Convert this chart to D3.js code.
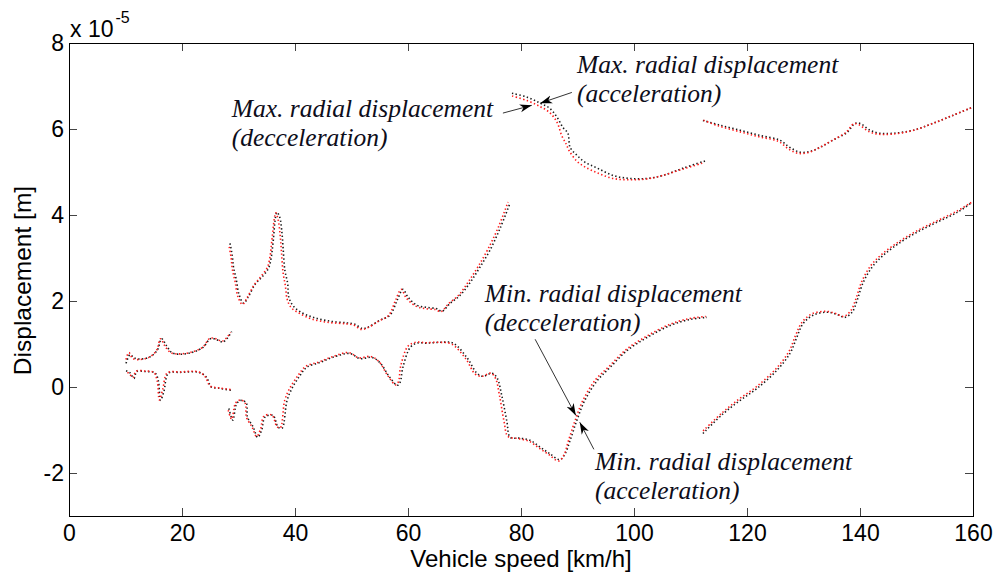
<!DOCTYPE html>
<html><head><meta charset="utf-8">
<script src="https://cdn.jsdelivr.net/npm/d3@7"></script>
<style>
html,body{margin:0;padding:0;background:#fff;}
svg{display:block;background:#fff;}
</style></head><body>
<svg id="chart" width="998" height="573"></svg>
<script>
// ---------- axis settings ----------
const xDomain = [0, 160];
const yDomain = [-3, 8];               // in units of 1e-5 m
const xTicks = [0, 20, 40, 60, 80, 100, 120, 140, 160];
const yTicks = [-2, 0, 2, 4, 6, 8];
const xLabel = "Vehicle speed [km/h]";
const yLabel = "Displacement [m]";
const exponentBase = "x 10";
const exponentPower = "-5";

// ---------- data: [speed km/h, displacement x1e-5 m] ----------
// black series (deceleration)
const blackLowUpper = [[10.1,0.55],[10.8,0.75],[11.5,0.68],[12.6,0.65],[14.3,0.7],[15.6,0.85],[16.4,1.12],[17.3,0.95],[18.2,0.8],[19.6,0.76],[21.9,0.81],[23.7,0.92],[25.0,1.12],[25.8,1.12],[27.3,1.05],[28.8,1.29]];
const blackLowLower = [[10.1,0.38],[10.8,0.33],[11.5,0.2],[12.0,0.36],[13.5,0.36],[15.2,0.33],[15.8,0.15],[16.2,-0.31],[16.8,-0.1],[17.6,0.32],[19.6,0.34],[23.0,0.34],[24.3,0.23],[25.2,0.0],[26.6,-0.03],[28.8,-0.08]];
const blackMidUpper = [[28.5,3.34],[28.9,3.05],[29.1,2.8],[29.6,2.5],[30.1,2.15],[30.9,1.95],[31.7,2.09],[33.0,2.4],[34.1,2.55],[35.3,2.76],[35.8,3.02],[36.1,3.34],[36.8,4.06],[37.3,3.95],[37.7,3.57],[37.9,3.22],[38.2,2.72],[38.7,2.41],[38.9,2.09],[39.6,1.9],[40.9,1.75],[43.2,1.62],[46.2,1.53],[49.2,1.49],[50.6,1.46],[51.9,1.36],[52.9,1.39],[55.0,1.55],[56.8,1.67],[58.1,2.02],[59.1,2.27],[60.0,2.09],[61.6,1.9],[63.4,1.85],[65.1,1.82],[66.0,1.76],[67.4,1.94],[69.2,2.13],[71.0,2.43],[72.7,2.78],[74.5,3.18],[76.3,3.69],[78.1,4.29]];
const blackMidLower = [[28.3,-0.5],[29.0,-0.77],[29.7,-0.38],[30.6,-0.31],[31.4,-0.38],[31.6,-0.7],[32.6,-0.93],[33.4,-1.17],[34.1,-1.0],[34.7,-0.7],[36.1,-0.66],[37.0,-0.93],[37.7,-0.96],[38.6,-0.31],[39.6,0.0],[40.9,0.27],[42.1,0.46],[44.4,0.57],[46.7,0.69],[49.7,0.78],[51.5,0.66],[53.6,0.69],[55.0,0.57],[56.8,0.22],[58.1,0.04],[58.6,0.11],[59.1,0.46],[60.4,0.92],[61.6,1.02],[63.4,1.02],[65.7,1.04],[68.0,1.02],[70.5,0.67],[72.2,0.32],[73.3,0.25],[74.9,0.32],[75.8,0.2],[76.6,-0.2],[77.5,-0.8],[78.1,-1.17],[79.8,-1.19],[81.6,-1.24],[83.4,-1.4],[85.1,-1.55],[86.9,-1.69],[87.8,-1.55],[88.7,-1.24],[89.9,-0.77],[91.3,-0.31],[93.5,0.15],[95.8,0.46],[98.8,0.85],[102.3,1.15],[106.4,1.43],[109.9,1.57],[112.9,1.62]];
const blackHighUpper = [[78.4,6.83],[81.1,6.74],[83.4,6.6],[85.1,6.48],[86.4,6.27],[87.4,6.04],[88.3,5.9],[88.7,5.57],[89.9,5.39],[91.3,5.23],[93.5,5.09],[96.3,4.92],[99.3,4.85],[102.3,4.85],[105.1,4.92],[108.7,5.09],[112.9,5.27]];
const blackTopUpper = [[112.2,6.2],[115.2,6.09],[118.8,5.97],[122.3,5.85],[125.8,5.74],[127.6,5.57],[129.4,5.46],[131.2,5.48],[132.9,5.57],[135.2,5.74],[137.7,5.92],[139.1,6.13],[140.0,6.13],[141.8,5.97],[143.5,5.9],[145.8,5.9],[149.4,5.97],[152.9,6.13],[156.5,6.32],[159.8,6.5]];
const blackTopLower = [[112.2,-1.08],[115.8,-0.62],[118.8,-0.31],[121.8,-0.03],[125.3,0.39],[127.6,0.78],[128.8,1.15],[129.9,1.47],[131.7,1.67],[134.2,1.74],[135.9,1.69],[137.3,1.62],[138.6,1.74],[139.5,2.02],[140.5,2.41],[142.1,2.78],[144.1,3.06],[147.1,3.36],[150.1,3.6],[153.6,3.83],[157.2,4.06],[159.8,4.29]];

// red series (acceleration)
const redLowUpper = [[10.0,0.6],[10.6,0.8],[11.3,0.66],[12.6,0.64],[14.3,0.7],[15.5,0.85],[16.2,1.12],[17.0,0.95],[18.0,0.8],[19.6,0.77],[21.9,0.82],[23.7,0.93],[24.8,1.12],[25.6,1.14],[27.2,1.07],[28.6,1.27]];
const redLowLower = [[10.0,0.35],[10.6,0.32],[11.3,0.22],[11.9,0.37],[13.5,0.37],[15.0,0.34],[15.6,0.15],[16.0,-0.3],[16.6,-0.05],[17.4,0.33],[19.6,0.35],[23.0,0.35],[24.1,0.24],[25.0,0.02],[26.6,-0.02],[28.6,-0.06]];
const redMidUpper = [[28.3,3.3],[28.7,3.0],[28.9,2.75],[29.4,2.45],[29.9,2.1],[30.7,1.92],[31.5,2.07],[32.8,2.38],[33.9,2.56],[35.1,2.78],[35.6,3.05],[35.9,3.4],[36.6,4.05],[37.0,3.9],[37.4,3.5],[37.6,3.15],[37.9,2.65],[38.3,2.35],[38.6,2.05],[39.3,1.85],[40.7,1.72],[43.0,1.58],[46.0,1.5],[49.0,1.47],[50.4,1.44],[51.7,1.34],[52.7,1.37],[54.8,1.53],[56.6,1.67],[57.8,2.02],[58.8,2.27],[59.7,2.07],[61.4,1.88],[63.2,1.82],[64.9,1.8],[65.8,1.75],[67.2,1.94],[69.0,2.14],[70.7,2.45],[72.4,2.8],[74.2,3.22],[76.0,3.72],[77.7,4.3]];
const redMidLower = [[28.1,-0.5],[28.8,-0.75],[29.5,-0.37],[30.4,-0.3],[31.2,-0.38],[31.4,-0.7],[32.4,-0.93],[33.2,-1.15],[33.9,-0.98],[34.5,-0.68],[35.9,-0.65],[36.8,-0.92],[37.4,-0.95],[38.2,-0.3],[39.2,0.0],[40.6,0.28],[41.9,0.48],[44.2,0.58],[46.5,0.7],[49.5,0.8],[51.3,0.68],[53.4,0.71],[54.8,0.6],[56.5,0.25],[57.8,0.05],[58.3,0.12],[58.7,0.48],[60.0,0.95],[61.4,1.04],[63.2,1.03],[65.5,1.04],[67.7,1.0],[70.2,0.66],[71.9,0.3],[73.1,0.25],[74.7,0.32],[75.5,0.2],[76.2,-0.2],[77.0,-0.8],[77.7,-1.15],[79.6,-1.2],[81.4,-1.26],[83.2,-1.42],[84.9,-1.57],[86.7,-1.72],[87.6,-1.58],[88.4,-1.25],[89.6,-0.77],[91.0,-0.3],[93.2,0.17],[95.6,0.48],[98.6,0.87],[102.1,1.17],[106.2,1.45],[109.7,1.59],[112.7,1.64]];
const redHighUpper = [[78.1,6.78],[81.1,6.66],[83.4,6.52],[85.1,6.38],[86.4,6.15],[87.2,5.85],[88.0,5.65],[88.5,5.5],[89.9,5.25],[91.3,5.12],[93.5,4.98],[96.3,4.85],[99.3,4.82],[102.3,4.84],[105.1,4.92],[108.7,5.07],[112.5,5.22]];
const redTopUpper = [[112.0,6.22],[115.0,6.07],[118.6,5.94],[122.1,5.82],[125.6,5.71],[127.4,5.53],[129.2,5.43],[131.0,5.46],[132.7,5.56],[135.0,5.73],[137.5,5.92],[138.9,6.12],[139.8,6.1],[141.6,5.94],[143.3,5.88],[145.6,5.88],[149.2,5.96],[152.7,6.12],[156.3,6.31],[159.8,6.5]];
const redTopLower = [[112.0,-1.05],[115.6,-0.6],[118.6,-0.28],[121.6,0.0],[125.1,0.42],[127.4,0.82],[128.6,1.2],[129.7,1.5],[131.5,1.7],[134.0,1.76],[135.7,1.71],[137.1,1.64],[138.4,1.78],[139.3,2.06],[140.3,2.45],[141.9,2.82],[143.9,3.09],[146.9,3.38],[149.9,3.62],[153.4,3.85],[157.0,4.08],[159.8,4.3]];

const blackBranches = [blackLowUpper, blackLowLower, blackMidUpper, blackMidLower, blackHighUpper, blackTopUpper, blackTopLower];
const redBranches = [redLowUpper, redLowLower, redMidUpper, redMidLower, redHighUpper, redTopUpper, redTopLower];

// ---------- annotations (data coordinates) ----------
const annotationLines = [
  ["Max. radial displacement", "(decceleration)"],
  ["Max. radial displacement", "(acceleration)"],
  ["Min. radial displacement", "(decceleration)"],
  ["Min. radial displacement", "(acceleration)"]
];
const annotationAnchors = [[28.8, 6.27], [89.9, 7.3], [73.6, 1.97], [93.1, -1.94]];
const arrowFrom = [[76.8, 6.37], [89.0, 6.85], [82.5, 1.11], [92.9, -1.45]];
const arrowTo   = [[81.9, 6.55], [83.4, 6.6], [89.7, -0.66], [90.4, -0.82]];

// ---------- drawing ----------
const L = 69, R = 973, T = 43, B = 516;
const svg = d3.select("#chart");
const x = d3.scaleLinear().domain(xDomain).range([L, R]);
const y = d3.scaleLinear().domain(yDomain).range([B, T]);

const tickFont = "'Liberation Sans', Arial, Helvetica, sans-serif";

// arrow marker
const defs = svg.append("defs");
defs.append("marker")
  .attr("id", "ah").attr("viewBox", "-12 -5 14 10")
  .attr("refX", 0).attr("refY", 0)
  .attr("markerWidth", 14).attr("markerHeight", 10)
  .attr("markerUnits", "userSpaceOnUse").attr("orient", "auto")
  .append("path").attr("d", "M0,0 L-12,-4 L-8.5,0 L-12,4 Z").attr("fill", "#000");

// series
const line = d3.line().x(d => x(d[0])).y(d => y(d[1])).curve(d3.curveCatmullRom.alpha(0.5));
const plot = svg.append("g");
plot.selectAll("path.blk").data(blackBranches).join("path")
  .attr("class", "blk").attr("d", line)
  .attr("fill", "none").attr("stroke", "#1a1a1a").attr("stroke-width", 1.6)
  .attr("stroke-dasharray", "1.4,2.4");
plot.selectAll("path.red").data(redBranches).join("path")
  .attr("class", "red").attr("d", line)
  .attr("fill", "none").attr("stroke", "#ff1a1a").attr("stroke-width", 1.6)
  .attr("stroke-dasharray", "1.4,2.4").attr("stroke-dashoffset", 1.9);

// axes (ticks inward, box)
function styleAxis(g) {
  g.select(".domain").remove();
  g.selectAll(".tick line").attr("stroke", "#444").attr("stroke-width", 1).attr("shape-rendering", "crispEdges");
  g.selectAll(".tick text").attr("fill", "#000").attr("font-family", tickFont).attr("font-size", 23);
}
const fmt = d => String(d);
svg.append("g").attr("transform", `translate(0,${B})`)
  .call(d3.axisBottom(x).tickValues(xTicks).tickSize(-8).tickPadding(9).tickFormat(fmt))
  .call(styleAxis);
svg.append("g").attr("transform", `translate(0,${T})`)
  .call(d3.axisTop(x).tickValues(xTicks).tickSize(-8).tickFormat(""))
  .call(styleAxis);
svg.append("g").attr("transform", `translate(${L},0)`)
  .call(d3.axisLeft(y).tickValues(yTicks).tickSize(-8).tickPadding(5).tickFormat(fmt))
  .call(styleAxis);
svg.append("g").attr("transform", `translate(${R},0)`)
  .call(d3.axisRight(y).tickValues(yTicks).tickSize(-8).tickFormat(""))
  .call(styleAxis);

svg.append("rect").attr("x", L).attr("y", T).attr("width", R - L).attr("height", B - T)
  .attr("fill", "none").attr("stroke", "#000").attr("stroke-width", 1).attr("shape-rendering", "crispEdges");

// axis titles
svg.append("text").attr("x", (L + R) / 2).attr("y", 567)
  .attr("text-anchor", "middle").attr("font-family", tickFont).attr("font-size", 24).attr("fill", "#000")
  .text(xLabel);
svg.append("text").attr("transform", `translate(31,${(T + B) / 2 + 1}) rotate(-90)`)
  .attr("text-anchor", "middle").attr("font-family", tickFont).attr("font-size", 24.5).attr("fill", "#000")
  .text(yLabel);

// exponent label
const ex = svg.append("text").attr("x", L + 1).attr("y", T - 6)
  .attr("font-family", tickFont).attr("font-size", 23).attr("fill", "#000");
ex.append("tspan").text(exponentBase);
ex.append("tspan").attr("dy", -14).attr("dx", 2).attr("font-size", 16).text(exponentPower);

// annotation arrows
svg.append("g").selectAll("line").data(arrowFrom).join("line")
  .attr("x1", d => x(d[0])).attr("y1", d => y(d[1]))
  .attr("x2", (d, i) => x(arrowTo[i][0])).attr("y2", (d, i) => y(arrowTo[i][1]))
  .attr("stroke", "#333").attr("stroke-width", 1).attr("marker-end", "url(#ah)");

// annotation texts
const ann = svg.append("g").selectAll("text").data(annotationLines).join("text")
  .attr("x", (d, i) => x(annotationAnchors[i][0]))
  .attr("y", (d, i) => y(annotationAnchors[i][1]))
  .attr("font-family", "'Liberation Serif', 'Times New Roman', serif")
  .attr("font-style", "italic").attr("font-size", 25.5).attr("fill", "#0d0d1a");
ann.selectAll("tspan").data(d => d).join("tspan")
  .attr("x", function () { return d3.select(this.parentNode).attr("x"); })
  .attr("dy", (d, j) => j === 0 ? 0 : 29)
  .text(d => d);
</script>
</body></html>
